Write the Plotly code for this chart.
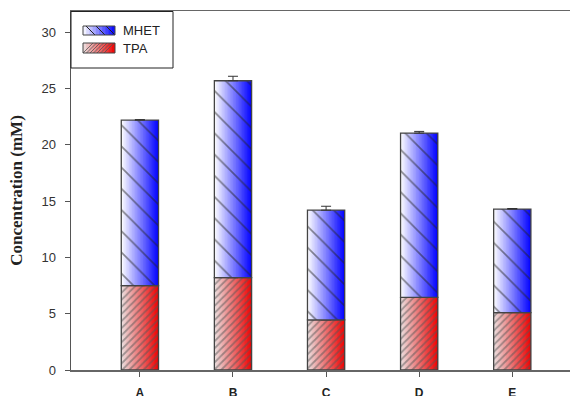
import plotly.graph_objects as go

categories = ["A", "B", "C", "D", "E"]
tpa = [7.5, 8.2, 4.45, 6.45, 5.1]
tpa_err = [0.1, 0.3, 0.3, 0.2, 0.1]
mhet = [14.7, 17.5, 9.75, 14.6, 9.2]
mhet_err = [0.05, 0.4, 0.35, 0.15, 0.05]
y_ticks = [0, 5, 10, 15, 20, 25, 30]
legend_names = ["MHET", "TPA"]

BAR_W = 0.4
N = 24

def lerp(c1, c2, t):
    return "rgb(%d,%d,%d)" % tuple(round(a + (b - a) * t) for a, b in zip(c1, c2))

fig = go.Figure()

series = [
    ("TPA", tpa, tpa_err, [0] * len(categories), (235, 225, 225), (240, 0, 0), "/", 5, 0.35, "#555"),
    ("MHET", mhet, mhet_err, tpa, (255, 255, 255), (0, 0, 255), "\\", 15, 0.11, "#222"),
]

for name, vals, errs, base, c0, c1, shape, psize, sol, fg in series:
    step = BAR_W / N
    for k in range(N):
        t = (k + 0.5) / N
        fig.add_trace(go.Bar(
            x=categories, y=vals, base=base,
            width=BAR_W - k * step, offset=-BAR_W / 2 + k * step,
            marker=dict(color=lerp(c0, c1, t), line=dict(width=0)),
            showlegend=False, hoverinfo="skip",
        ))
    fig.add_trace(go.Bar(
        x=categories, y=vals, base=base, width=BAR_W, offset=-BAR_W / 2,
        marker=dict(color="rgba(0,0,0,0)",
                    pattern=dict(shape=shape, fgcolor=fg, bgcolor="rgba(0,0,0,0)",
                                 size=psize, solidity=sol, fillmode="overlay"),
                    line=dict(color="#444", width=1.3)),
        error_y=dict(type="data", array=errs, arrayminus=[0] * len(errs),
                     color="#333", thickness=1, width=5),
        showlegend=False, name=name,
    ))

# ---- legend box drawn as decoration (paper coordinates from pixel layout) ----
L_PX, B_PX, W_PX, H_PX = 71, 370, 499, 359

def px(x):
    return (x - L_PX) / W_PX

def py(y):
    return (B_PX - y) / H_PX

shapes = [dict(type="rect", xref="paper", yref="paper", layer="above",
               x0=px(71), x1=px(173), y0=py(68), y1=py(11.5),
               line=dict(color="#222", width=1), fillcolor="white")]
annotations = []

legend_specs = [
    (legend_names[0], 26, 35, (255, 255, 255), (0, 0, 255), "\\", [3, 13, 23], "#222", 1.0),
    (legend_names[1], 43, 53, (235, 225, 225), (240, 0, 0), "/", [0, 3.5, 7, 10.5, 14, 17.5, 21], "#555", 0.8),
]
SX0, SX1 = 83, 115
for name, yt, yb, c0, c1, hshape, offs, hcol, hw in legend_specs:
    n = 10
    sw = (SX1 - SX0) / n
    for k in range(n):
        shapes.append(dict(type="rect", xref="paper", yref="paper", layer="above",
                           x0=px(SX0 + k * sw), x1=px(SX1), y0=py(yb), y1=py(yt),
                           line=dict(width=0), fillcolor=lerp(c0, c1, (k + 0.5) / n)))
    h = yb - yt
    for a in offs:
        if hshape == "\\":
            xa, ya, xb, yb2 = SX0 + a, yt, SX0 + a + h, yb
        else:
            xa, ya, xb, yb2 = SX0 + a, yb, SX0 + a + h, yt
        xb = min(xb, SX1)
        shapes.append(dict(type="line", xref="paper", yref="paper", layer="above",
                           x0=px(xa), y0=py(ya), x1=px(xb), y1=py(yb2),
                           line=dict(color=hcol, width=hw)))
    shapes.append(dict(type="rect", xref="paper", yref="paper", layer="above",
                       x0=px(SX0), x1=px(SX1), y0=py(yb), y1=py(yt),
                       line=dict(color="#444", width=1), fillcolor="rgba(0,0,0,0)"))
    annotations.append(dict(xref="paper", yref="paper", x=px(121), y=py((yt + yb) / 2),
                            text=name, showarrow=False, xanchor="left", yanchor="middle",
                            font=dict(family="Liberation Sans, Arial", size=13, color="#222")))

fig.update_layout(
    width=570, height=396,
    margin=dict(l=71, r=0, t=11, b=26),
    paper_bgcolor="white", plot_bgcolor="white",
    barmode="overlay",
    showlegend=False,
    shapes=shapes,
    annotations=annotations,
    xaxis=dict(type="category", range=[-0.74, 4.62], automargin=False,
               showline=True, linecolor="#666", linewidth=1.5,
               mirror=True,
               ticks="outside", ticklen=5, tickcolor="#555",
               tickfont=dict(family="Liberation Sans, Arial", size=12, color="#222"),
               tickprefix="<b>", ticksuffix="</b>",
               ticklabelstandoff=6, showgrid=False, zeroline=False),
    yaxis=dict(range=[0, 31.9], tickvals=y_ticks, automargin=False,
               showline=True, linecolor="#555", linewidth=1.5,
               ticks="outside", ticklen=5, tickcolor="#555",
               tickfont=dict(family="Liberation Sans, Arial", size=13, color="#333"),
               ticklabelstandoff=6, showgrid=False, zeroline=False,
               title=dict(text="<b>Concentration (mM)</b>",
                          font=dict(family="Liberation Serif, Times New Roman", size=17, color="#222"),
                          standoff=14)),
)

fig.write_html("out.html",
               config={"displayModeBar": False, "staticPlot": True},
               post_script="document.body.style.margin='0';document.body.style.overflow='hidden';"
                           "document.documentElement.style.overflow='hidden';")
